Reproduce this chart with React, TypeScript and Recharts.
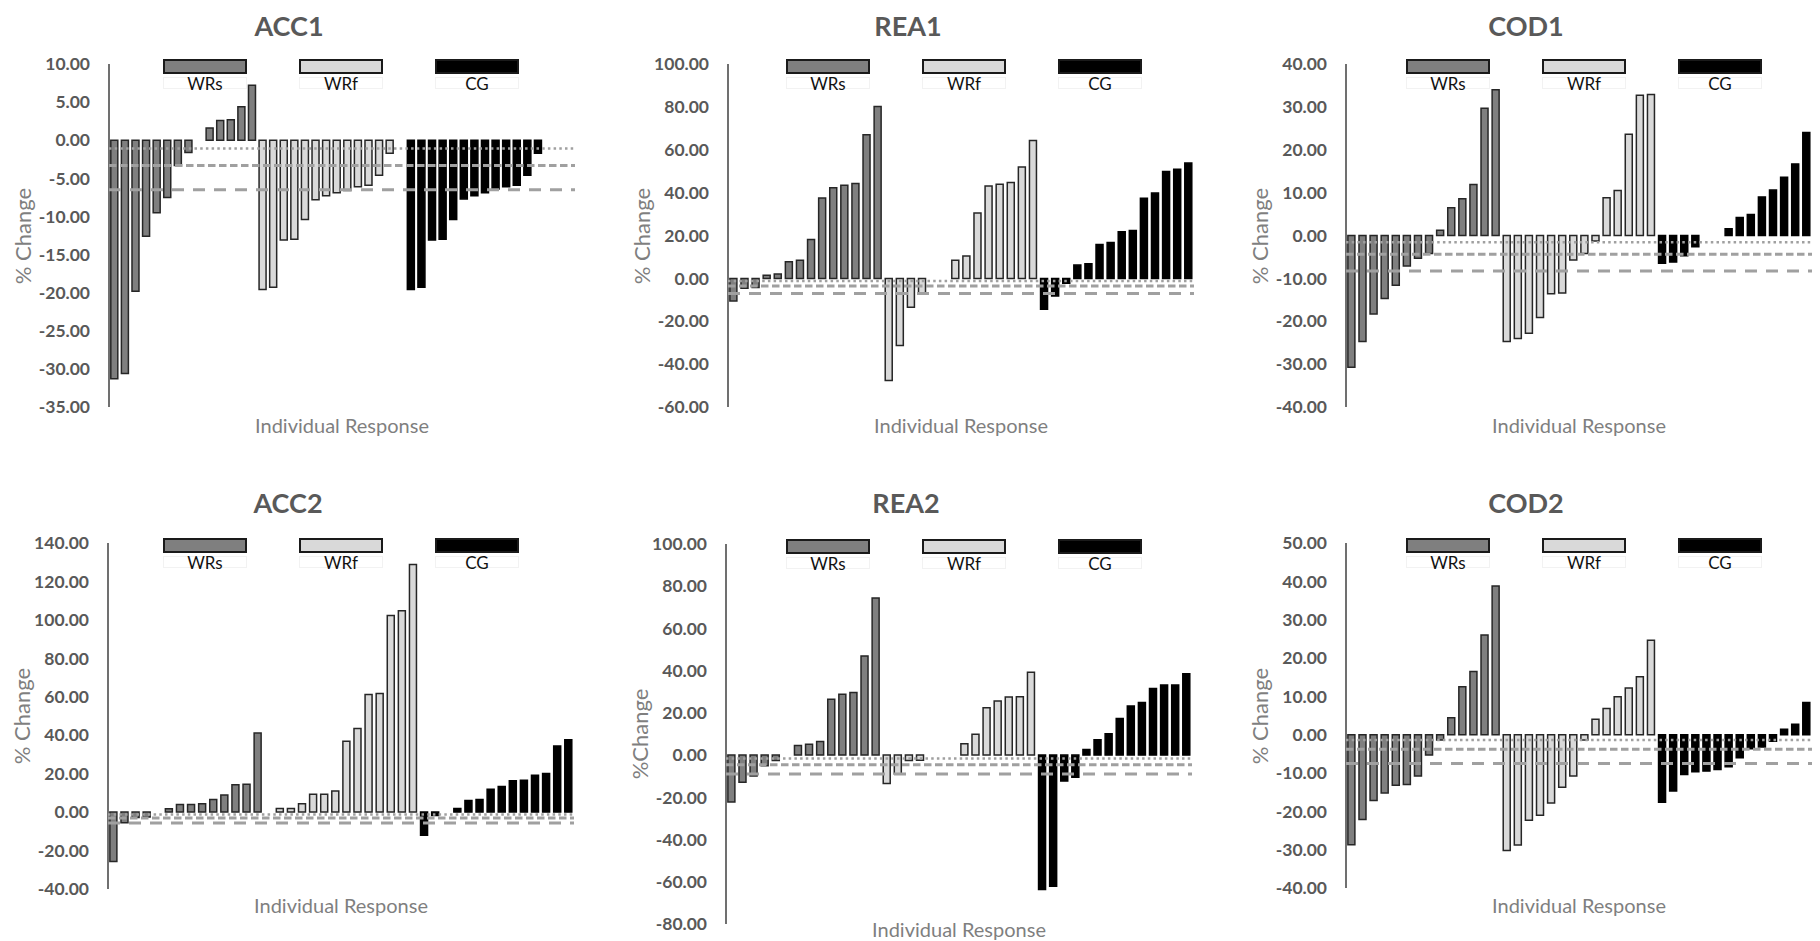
import React from 'react';
import { BarChart, Bar, XAxis, YAxis, Cell, ReferenceLine } from 'recharts';

// Individual % change, sorted within each group (null = no bar)
const acc1WRs = [-31.3, -30.6, -19.8, -12.6, -9.5, -7.5, -3.3, -1.6, null, 1.6, 2.6, 2.7, 4.4, 7.2];
const acc1WRf = [-19.6, -19.3, -13.1, -13.0, -10.4, -7.8, -7.3, -6.9, -6.6, -6.1, -5.9, -4.6, -1.7, null];
const acc1CG = [-19.6, -19.3, -13.1, -13.0, -10.4, -7.7, -7.3, -6.9, -6.4, -6.1, -5.9, -4.6, -1.7, null, null, null];

const rea1WRs = [-10.5, -4.6, -4.3, 1.5, 2.0, 7.8, 8.4, 18.1, 37.5, 42.3, 43.4, 44.3, 67.0, 80.2];
const rea1WRf = [-47.6, -31.3, -13.5, -7.0, null, null, 8.5, 10.4, 30.5, 43.1, 43.9, 44.7, 51.9, 64.3];
const rea1CG = [-14.4, -8.2, -2.3, 6.2, 6.8, 15.8, 16.7, 21.7, 22.3, 37.4, 39.8, 49.9, 50.9, 53.8];

const cod1WRs = [-30.7, -24.7, -18.3, -14.7, -11.6, -7.1, -5.3, -4.2, 1.2, 6.5, 8.6, 11.9, 29.7, 34.0];
const cod1WRf = [-24.7, -24.0, -22.8, -19.1, -13.6, -13.4, -5.7, -4.2, -1.3, 8.8, 10.5, 23.6, 32.7, 32.9];
const cod1CG = [-6.5, -6.2, -4.7, -2.6, null, null, 1.6, 4.2, 4.9, 9.0, 10.6, 13.6, 16.7, 24.0];

const acc2WRs = [-25.7, -5.5, -2.8, -2.6, null, 1.8, 4.0, 4.0, 4.4, 6.6, 8.9, 14.2, 14.5, 41.1];
const acc2WRf = [null, 1.9, 1.9, 4.4, 9.3, 9.3, 11.0, 36.9, 43.5, 61.2, 61.7, 102.3, 104.7, 128.8];
const acc2CG = [-12.1, -1.8, null, 1.9, 6.1, 6.6, 11.9, 13.3, 16.3, 16.6, 19.2, 20.1, 34.4, 37.6];

const rea2WRs = [-22.2, -12.9, -9.9, -5.0, -2.6, null, 4.5, 5.1, 6.5, 26.5, 28.8, 29.7, 47.0, 74.4];
const rea2WRf = [-13.4, -8.9, -2.6, -2.4, null, null, null, 5.4, 9.9, 22.4, 25.6, 27.5, 27.6, 39.3];
const rea2CG = [-63.7, -62.1, -12.3, -10.5, 2.6, 7.3, 10.1, 17.3, 23.3, 24.9, 31.6, 33.2, 33.2, 38.5];

const cod2WRs = [-28.7, -22.1, -17.2, -15.2, -13.2, -13.0, -10.8, -5.3, -1.4, 4.4, 12.5, 16.5, 26.0, 38.8];
const cod2WRf = [-30.2, -28.8, -22.3, -21.0, -17.8, -13.7, -10.8, -1.4, 4.0, 6.8, 9.9, 12.2, 15.1, 24.6];
const cod2CG = [-17.6, -14.7, -10.4, -9.7, -9.5, -9.1, -8.4, -6.0, -3.7, -3.2, -1.7, 1.4, 2.7, 8.4];

// group mean lines: [dotted, short dash, long dash]
const acc1Means = [-1.1, -3.3, -6.5];
const rea1Means = [-1.2, -3.6, -7.0];
const cod1Means = [-1.6, -4.4, -8.3];
const acc2Means = [-1.2, -3.0, -5.6];
const rea2Means = [-1.6, -4.6, -9.0];
const cod2Means = [-1.4, -3.8, -7.5];

const acc1Ticks = [-35, -30, -25, -20, -15, -10, -5, 0, 5, 10];
const rea1Ticks = [-60, -40, -20, 0, 20, 40, 60, 80, 100];
const cod1Ticks = [-40, -30, -20, -10, 0, 10, 20, 30, 40];
const acc2Ticks = [-40, -20, 0, 20, 40, 60, 80, 100, 120, 140];
const rea2Ticks = [-80, -60, -40, -20, 0, 20, 40, 60, 80, 100];
const cod2Ticks = [-40, -30, -20, -10, 0, 10, 20, 30, 40, 50];

const groupNames = ['WRs', 'WRf', 'CG'];
const groupFill: Record<string, string> = { WRs: '#7f7f7f', WRf: '#d9d9d9', CG: '#000000' };
const groupStroke: Record<string, string> = { WRs: '#262626', WRf: '#262626', CG: '#000000' };

const FONT = 'Lato, "Open Sans", sans-serif';
const PLOT_W = 466;
const AXIS_W = 110;

type PanelProps = {
  title: string;
  yLabel: string;
  axisX: number;
  plotTop: number;
  plotH: number;
  xLabelY: number;
  legendDX: number;
  ticks: number[];
  series: (number | null)[][];
  means: number[];
};

const lineStyles = [
  { dash: '2.5 3.2', width: 2.5 },
  { dash: '7.5 3.5', width: 3 },
  { dash: '12 9', width: 3 },
];

function Panel(p: PanelProps) {
  const rows: { i: number; g: string; v: number | null }[] = [];
  p.series.forEach((vals, gi) => {
    vals.forEach((v) => rows.push({ i: rows.length, g: groupNames[gi], v }));
  });

  const chartLeft = p.axisX - AXIS_W;
  const chartTop = p.plotTop - 10;
  const domain: [number, number] = [p.ticks[0], p.ticks[p.ticks.length - 1]];
  const chartProps = {
    width: AXIS_W + PLOT_W + 10,
    height: p.plotH + 20,
    data: rows,
    margin: { top: 10, right: 10, bottom: 10, left: 0 },
    barCategoryGap: '17%',
  };

  return (
    <>
      <div
        style={{
          position: 'absolute', left: p.axisX + 180 - 100, top: (p.plotTop < 300 ? 26 : 503) - 17,
          width: 200, height: 34, lineHeight: '34px', textAlign: 'center',
          fontFamily: FONT, fontWeight: 700, fontSize: 27, color: '#595959',
        }}
      >
        {p.title}
      </div>

      {/* bars and value axis */}
      <div style={{ position: 'absolute', left: chartLeft, top: chartTop }}>
        <BarChart {...chartProps}>
          <XAxis dataKey="i" hide />
          <YAxis
            width={AXIS_W}
            type="number"
            domain={domain}
            ticks={p.ticks}
            interval={0}
            tickLine={false}
            tickSize={6}
            tickMargin={13}
            axisLine={{ stroke: '#404040', strokeWidth: 1.5 }}
            tick={{ fill: '#595959', fontSize: 17.5, fontWeight: 700, fontFamily: FONT }}
            tickFormatter={(v: number) => v.toFixed(2)}
          />
          <Bar dataKey="v" isAnimationActive={false} strokeWidth={1.5}>
            {rows.map((r) => (
              <Cell key={r.i} fill={groupFill[r.g]} stroke={groupStroke[r.g]} />
            ))}
          </Bar>
        </BarChart>
      </div>

      {/* mean lines drawn over the bars */}
      <div style={{ position: 'absolute', left: chartLeft, top: chartTop, pointerEvents: 'none' }}>
        <BarChart {...chartProps}>
          <XAxis dataKey="i" hide />
          <YAxis width={AXIS_W} type="number" domain={domain} ticks={p.ticks} tick={false} axisLine={false} tickLine={false} />
          <Bar dataKey="v" isAnimationActive={false} fill="none" stroke="none" />
          {p.means.map((m, k) => (
            <ReferenceLine
              key={k}
              y={m}
              stroke="#a0a0a0"
              strokeWidth={lineStyles[k].width}
              strokeDasharray={lineStyles[k].dash}
            />
          ))}
        </BarChart>
      </div>

      {groupNames.map((g, gi) => {
        const left = p.axisX + p.legendDX + gi * 136;
        return (
          <React.Fragment key={g}>
            <div
              style={{
                position: 'absolute', left, top: p.plotTop - 5, width: 84, height: 15,
                boxSizing: 'border-box', background: groupFill[g], border: '2px solid #1a1a1a',
              }}
            />
            <div
              style={{
                position: 'absolute', left, top: p.plotTop + 13, width: 84, height: 12,
                boxSizing: 'border-box', border: '1px solid #f2f2f2', background: '#fff',
                lineHeight: '12px', textAlign: 'center', fontFamily: FONT, fontSize: 17, color: '#111',
              }}
            >
              {g}
            </div>
          </React.Fragment>
        );
      })}

      <div
        style={{
          position: 'absolute', left: p.axisX - 86 - 100, top: p.plotTop + p.plotH / 2 - 14,
          width: 200, height: 28, lineHeight: '28px', textAlign: 'center',
          transform: 'rotate(-90deg)', fontFamily: FONT, fontSize: 22, color: '#7f7f7f',
        }}
      >
        {p.yLabel}
      </div>

      <div
        style={{
          position: 'absolute', left: p.axisX + PLOT_W / 2 - 150, top: p.xLabelY - 13,
          width: 300, height: 26, lineHeight: '26px', textAlign: 'center',
          fontFamily: FONT, fontSize: 20, color: '#7f7f7f',
        }}
      >
        Individual Response
      </div>
    </>
  );
}

export default function App() {
  return (
    <div style={{ position: 'absolute', left: 0, top: 0, width: 1820, height: 941, background: '#fff', overflow: 'hidden' }}>
      <Panel title="ACC1" yLabel="% Change" axisX={109} plotTop={64} plotH={343} xLabelY={425} legendDX={54}
        ticks={acc1Ticks} series={[acc1WRs, acc1WRf, acc1CG]} means={acc1Means} />
      <Panel title="REA1" yLabel="% Change" axisX={728} plotTop={64} plotH={343} xLabelY={425} legendDX={58}
        ticks={rea1Ticks} series={[rea1WRs, rea1WRf, rea1CG]} means={rea1Means} />
      <Panel title="COD1" yLabel="% Change" axisX={1346} plotTop={64} plotH={343} xLabelY={425} legendDX={60}
        ticks={cod1Ticks} series={[cod1WRs, cod1WRf, cod1CG]} means={cod1Means} />
      <Panel title="ACC2" yLabel="% Change" axisX={108} plotTop={543} plotH={346} xLabelY={905} legendDX={55}
        ticks={acc2Ticks} series={[acc2WRs, acc2WRf, acc2CG]} means={acc2Means} />
      <Panel title="REA2" yLabel="%Change" axisX={726} plotTop={544} plotH={380} xLabelY={929} legendDX={60}
        ticks={rea2Ticks} series={[rea2WRs, rea2WRf, rea2CG]} means={rea2Means} />
      <Panel title="COD2" yLabel="% Change" axisX={1346} plotTop={543} plotH={345} xLabelY={905} legendDX={60}
        ticks={cod2Ticks} series={[cod2WRs, cod2WRf, cod2CG]} means={cod2Means} />
    </div>
  );
}
